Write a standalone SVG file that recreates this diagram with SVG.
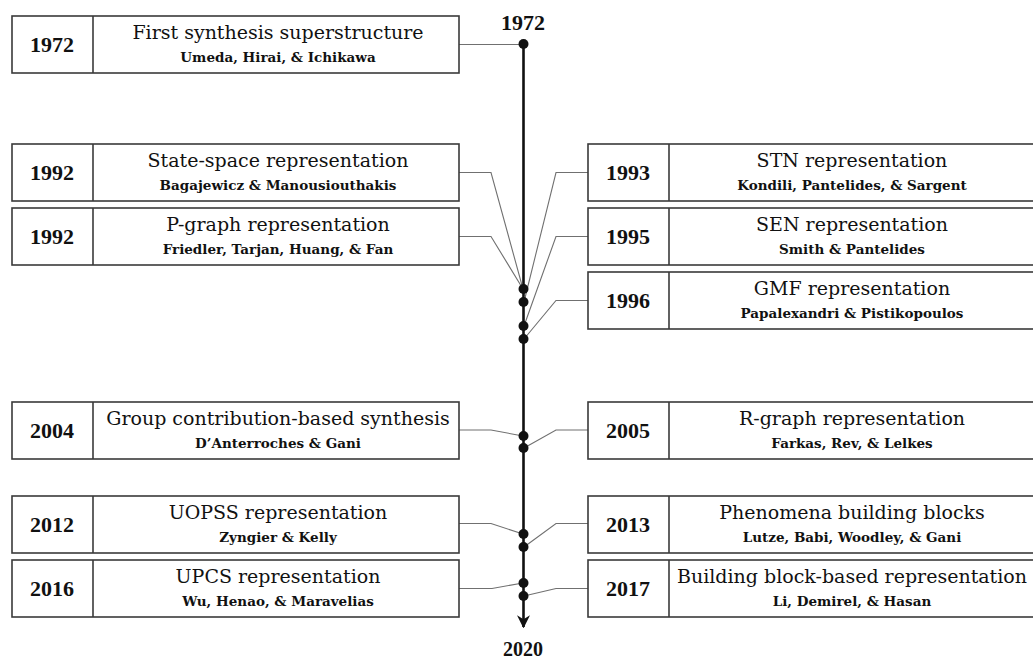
<svg xmlns="http://www.w3.org/2000/svg" width="1033" height="662" viewBox="0 0 1033 662">
<style>
.box{fill:#fff;stroke:#3a3a3a;stroke-width:1.6}
.div{stroke:#3a3a3a;stroke-width:1.6}
.yr{font-family:"Liberation Serif","DejaVu Serif",serif;font-weight:bold;font-size:22px;fill:#111;text-anchor:middle}
.tt{font-family:"DejaVu Serif","Liberation Serif",serif;font-size:19px;fill:#111;text-anchor:middle}
.au{font-family:"DejaVu Serif","Liberation Serif",serif;font-weight:bold;font-size:13.5px;fill:#111;text-anchor:middle}
.cn{fill:none;stroke:#707070;stroke-width:1.1}
.dot{fill:#111}
</style>
<defs>
<marker id="arr" viewBox="0 0 10 10" refX="9" refY="5" markerWidth="5" markerHeight="5" orient="auto" markerUnits="strokeWidth">
<path d="M0,0 L10,5 L0,10 L3,5 Z" fill="#111"/>
</marker>
</defs>
<rect width="1033" height="662" fill="#fff"/>

<g id="timeline">
<line x1="523.5" y1="44" x2="523.5" y2="627" stroke="#111" stroke-width="2.6" marker-end="url(#arr)"/>
<text class="yr" x="523" y="30">1972</text>
<text class="yr" x="523" y="656" style="font-size:20px">2020</text>
</g>

<g id="connectors">
<path class="cn" d="M459,44.5 H523"/>
<path class="cn" d="M459,172.5 H491 L523,289"/>
<path class="cn" d="M459,236.5 H491 L523,289"/>
<path class="cn" d="M588,172.5 H556 L524,302"/>
<path class="cn" d="M588,236.5 H556 L524,326"/>
<path class="cn" d="M588,300.5 H556 L524,339"/>
<path class="cn" d="M459,430 H491 L523,436"/>
<path class="cn" d="M588,430 H556 L524,448"/>
<path class="cn" d="M459,523.5 H491 L523,534"/>
<path class="cn" d="M588,523.5 H556 L524,547"/>
<path class="cn" d="M459,588.5 H492 L523,583"/>
<path class="cn" d="M588,588.5 H556 L524,596"/>
</g>

<g id="dots">
<circle class="dot" cx="523.5" cy="44" r="5"/>
<circle class="dot" cx="523.5" cy="289" r="5"/>
<circle class="dot" cx="523.5" cy="302" r="5"/>
<circle class="dot" cx="523.5" cy="326" r="5"/>
<circle class="dot" cx="523.5" cy="339" r="5"/>
<circle class="dot" cx="523.5" cy="436" r="5"/>
<circle class="dot" cx="523.5" cy="448" r="5"/>
<circle class="dot" cx="523.5" cy="534" r="5"/>
<circle class="dot" cx="523.5" cy="547" r="5"/>
<circle class="dot" cx="523.5" cy="583" r="5"/>
<circle class="dot" cx="523.5" cy="596" r="5"/>
</g>

<g id="n1972">
<rect class="box" x="12" y="16" width="447" height="57"/>
<line class="div" x1="93" y1="16" x2="93" y2="73"/>
<text class="yr" x="52" y="52">1972</text>
<text class="tt" x="278" y="39">First synthesis superstructure</text>
<text class="au" x="278" y="62">Umeda, Hirai, &amp; Ichikawa</text>
</g>

<g id="n1992a">
<rect class="box" x="12" y="144" width="447" height="57"/>
<line class="div" x1="93" y1="144" x2="93" y2="201"/>
<text class="yr" x="52" y="180">1992</text>
<text class="tt" x="278" y="167">State-space representation</text>
<text class="au" x="278" y="190">Bagajewicz &amp; Manousiouthakis</text>
</g>

<g id="n1992b">
<rect class="box" x="12" y="208" width="447" height="57"/>
<line class="div" x1="93" y1="208" x2="93" y2="265"/>
<text class="yr" x="52" y="244">1992</text>
<text class="tt" x="278" y="231">P-graph representation</text>
<text class="au" x="278" y="254">Friedler, Tarjan, Huang, &amp; Fan</text>
</g>

<g id="n2004">
<rect class="box" x="12" y="402" width="447" height="57"/>
<line class="div" x1="93" y1="402" x2="93" y2="459"/>
<text class="yr" x="52" y="438">2004</text>
<text class="tt" x="278" y="425">Group contribution-based synthesis</text>
<text class="au" x="278" y="448">D’Anterroches &amp; Gani</text>
</g>

<g id="n2012">
<rect class="box" x="12" y="496" width="447" height="57"/>
<line class="div" x1="93" y1="496" x2="93" y2="553"/>
<text class="yr" x="52" y="532">2012</text>
<text class="tt" x="278" y="519">UOPSS representation</text>
<text class="au" x="278" y="542">Zyngier &amp; Kelly</text>
</g>

<g id="n2016">
<rect class="box" x="12" y="560" width="447" height="57"/>
<line class="div" x1="93" y1="560" x2="93" y2="617"/>
<text class="yr" x="52" y="596">2016</text>
<text class="tt" x="278" y="583">UPCS representation</text>
<text class="au" x="278" y="606">Wu, Henao, &amp; Maravelias</text>
</g>

<g id="n1993">
<rect class="box" x="588" y="144" width="450" height="57"/>
<line class="div" x1="669" y1="144" x2="669" y2="201"/>
<text class="yr" x="628" y="180">1993</text>
<text class="tt" x="852" y="167">STN representation</text>
<text class="au" x="852" y="190">Kondili, Pantelides, &amp; Sargent</text>
</g>

<g id="n1995">
<rect class="box" x="588" y="208" width="450" height="57"/>
<line class="div" x1="669" y1="208" x2="669" y2="265"/>
<text class="yr" x="628" y="244">1995</text>
<text class="tt" x="852" y="231">SEN representation</text>
<text class="au" x="852" y="254">Smith &amp; Pantelides</text>
</g>

<g id="n1996">
<rect class="box" x="588" y="272" width="450" height="57"/>
<line class="div" x1="669" y1="272" x2="669" y2="329"/>
<text class="yr" x="628" y="308">1996</text>
<text class="tt" x="852" y="295">GMF representation</text>
<text class="au" x="852" y="318">Papalexandri &amp; Pistikopoulos</text>
</g>

<g id="n2005">
<rect class="box" x="588" y="402" width="450" height="57"/>
<line class="div" x1="669" y1="402" x2="669" y2="459"/>
<text class="yr" x="628" y="438">2005</text>
<text class="tt" x="852" y="425">R-graph representation</text>
<text class="au" x="852" y="448">Farkas, Rev, &amp; Lelkes</text>
</g>

<g id="n2013">
<rect class="box" x="588" y="496" width="450" height="57"/>
<line class="div" x1="669" y1="496" x2="669" y2="553"/>
<text class="yr" x="628" y="532">2013</text>
<text class="tt" x="852" y="519">Phenomena building blocks</text>
<text class="au" x="852" y="542">Lutze, Babi, Woodley, &amp; Gani</text>
</g>

<g id="n2017">
<rect class="box" x="588" y="560" width="450" height="57"/>
<line class="div" x1="669" y1="560" x2="669" y2="617"/>
<text class="yr" x="628" y="596">2017</text>
<text class="tt" x="852" y="583">Building block-based representation</text>
<text class="au" x="852" y="606">Li, Demirel, &amp; Hasan</text>
</g>
</svg>
